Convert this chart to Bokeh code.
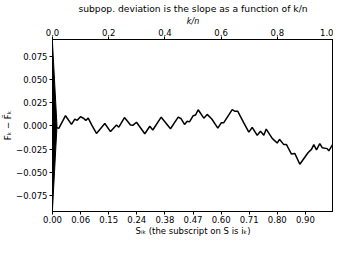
from bokeh.plotting import figure
from bokeh.models import LinearAxis, FixedTicker, Range1d
from bokeh.embed import file_html
from bokeh.resources import INLINE

# cumulative deviation data (k/n, F_k - F~_k)
k_over_n = [0.0, 0.0224, 0.0463, 0.0676, 0.0794, 0.0879, 0.0996, 0.1114, 0.1185, 0.1270,
            0.1413, 0.1566, 0.1861, 0.2064, 0.2278, 0.2359, 0.2562, 0.2776, 0.2858, 0.2989,
            0.3285, 0.3463, 0.3569, 0.3868, 0.4199, 0.4473, 0.4580, 0.4698, 0.4794, 0.4875,
            0.5007, 0.5089, 0.5185, 0.5384, 0.5505, 0.5669, 0.5883, 0.6004, 0.6096, 0.6395,
            0.6495, 0.6594, 0.6808, 0.6986, 0.7107, 0.7285, 0.7402, 0.7520, 0.7605, 0.7819,
            0.7996, 0.8078, 0.8231, 0.8327, 0.8505, 0.8623, 0.8801, 0.9100, 0.9217, 0.9299,
            0.9395, 0.9512, 0.9598, 0.9776, 0.9833, 1.0]
deviation = [0.0, -0.0026, 0.0110, 0.0017, 0.0074, 0.0060, 0.0100, 0.0080, 0.0060, 0.0084,
             0.0000, -0.0080, 0.0027, -0.0060, 0.0010, -0.0013, 0.0090, 0.0010, 0.0007, 0.0040,
             -0.0083, -0.0003, -0.0043, 0.0094, -0.0030, 0.0094, 0.0077, 0.0017, 0.0050, 0.0044,
             0.0110, 0.0117, 0.0174, 0.0084, 0.0124, 0.0075, -0.0023, 0.0034, 0.0035, 0.0175,
             0.0157, 0.0157, 0.0034, -0.0066, -0.0016, -0.0100, -0.0056, -0.0100, -0.0033, -0.0133,
             -0.0183, -0.0143, -0.0200, -0.0200, -0.0301, -0.0294, -0.0411, -0.0284, -0.0251, -0.0200,
             -0.0257, -0.0190, -0.0233, -0.0243, -0.0267, -0.0183]

# scale triangle (half height in y units, width in k/n units)
triangle_half_height = 0.089
triangle_width = 0.016

bottom_tick_pos = [0.0, 0.1, 0.2, 0.3, 0.4, 0.5, 0.6, 0.7, 0.8, 0.9]
bottom_tick_labels = ["0.00", "0.06", "0.15", "0.24", "0.38", "0.47", "0.60", "0.71", "0.80", "0.90"]
top_tick_pos = [0.0, 0.2, 0.4, 0.6, 0.8, 1.0]
y_tick_pos = [-0.075, -0.05, -0.025, 0.0, 0.025, 0.05, 0.075]
y_tick_labels = ["\u22120.075", "\u22120.050", "\u22120.025", "0.000", "0.025", "0.050", "0.075"]

FONT = "DejaVu Sans"

p = figure(width=333, height=238, output_backend="svg", toolbar_location=None,
           x_range=Range1d(0, 1), y_range=Range1d(-0.0917, 0.0927),
           x_axis_location=None, y_axis_location=None,
           min_border_left=0, min_border_right=0, min_border_top=0, min_border_bottom=0)

p.title.text = "subpop. deviation is the slope as a function of k/n"
p.title.text_font = FONT
p.title.text_font_size = "9.2px"
p.title.text_font_style = "normal"
p.title.text_color = "black"
p.title.align = "center"
p.title.offset = 0
p.title.standoff = 0

p.xgrid.grid_line_color = None
p.ygrid.grid_line_color = None
p.outline_line_color = "black"
p.outline_line_width = 1
p.background_fill_color = "white"
p.border_fill_color = "white"


def style_axis(ax):
    ax.axis_line_color = "black"
    ax.major_tick_line_color = "black"
    ax.minor_tick_line_color = None
    ax.major_tick_in = 0
    ax.major_tick_out = 3
    ax.major_label_text_font = FONT
    ax.major_label_text_font_size = "8.5px"
    ax.major_label_text_color = "black"
    ax.major_label_standoff = 1
    ax.axis_label_text_font = FONT
    ax.axis_label_text_font_size = "8.5px"
    ax.axis_label_text_font_style = "normal"
    ax.axis_label_text_color = "black"
    ax.axis_label_standoff = 0


xb = LinearAxis(ticker=FixedTicker(ticks=bottom_tick_pos),
                major_label_overrides={t: l for t, l in zip(bottom_tick_pos, bottom_tick_labels)},
                axis_label="S\u1d62\u2096 (the subscript on S is i\u2096)")
style_axis(xb)
p.add_layout(xb, "below")

xt = LinearAxis(ticker=FixedTicker(ticks=top_tick_pos), axis_label="k/n")
style_axis(xt)
xt.axis_label_text_font_style = "italic"
xt.axis_label_text_font_size = "8px"
xt.major_label_overrides = {t: f"{t:.1f}" for t in top_tick_pos}
p.add_layout(xt, "above")

yl = LinearAxis(ticker=FixedTicker(ticks=y_tick_pos),
                major_label_overrides={t: l for t, l in zip(y_tick_pos, y_tick_labels)},
                axis_label="F\u2096 \u2212 F\u0303\u2096")
style_axis(yl)
yl.major_label_standoff = 2
p.add_layout(yl, "left")

p.patch([0, triangle_width, 0], [triangle_half_height, 0, -triangle_half_height],
        fill_color="black", line_color="black", line_width=1)
p.line(k_over_n, deviation, line_color="black", line_width=1.5)

open("out.html", "w").write(file_html(p, INLINE))
